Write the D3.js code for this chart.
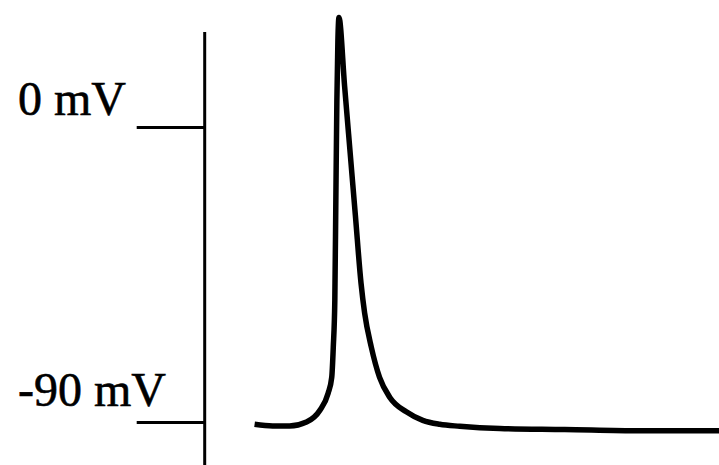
<!DOCTYPE html>
<html>
<head>
<meta charset="utf-8">
<script src="https://cdn.jsdelivr.net/npm/d3@7"></script>
<style>
  html, body { margin: 0; padding: 0; background: #fff; }
  svg { display: block; }
</style>
</head>
<body>
<svg id="chart"></svg>
<script>
const width = 719;
const height = 465;

// tick values and their labels
const tickValues = [0, -90];
const tickLabels = ["0 mV", "-90 mV"];

// action potential trace: time (arbitrary units) and membrane voltage (mV)
const times = [9.7, 13.2, 16.5, 19.8, 22.4, 24.0, 24.7, 25.0, 25.3, 25.5, 25.7, 25.9, 26.1,
  27.2, 28.3, 29.3, 30.4, 31.1, 32.4, 34.0, 36.0, 39.2, 42.4,
  45.7, 49.6, 57.4, 70.0, 84.6, 101];
const voltages = [-90.7, -91.2, -91.2, -90.0, -86.4, -81.2, -76.4, -67.2, -52.9, -22.4, 8.1, 26.5, 33.4,
  12.5, -8.2, -27.0, -47.7, -56.8, -67.2, -76.4, -82.5, -86.9, -89.5,
  -90.7, -91.3, -92.0, -92.3, -92.7, -92.7];

const trace = times.map((t, i) => ({ t, v: voltages[i] }));

const svg = d3.select("#chart")
  .attr("width", width)
  .attr("height", height);

svg.append("rect")
  .attr("width", width)
  .attr("height", height)
  .attr("fill", "#fff");

const xScale = d3.scaleLinear()
  .domain([0, 100])
  .range([204.7, 719]);

const yScale = d3.scaleLinear()
  .domain([-90, 0])
  .range([422, 127]);

// Y axis: one vertical line plus two long ticks to the left
const yAxis = d3.axisLeft(yScale)
  .tickValues(tickValues)
  .tickSize(68)
  .tickFormat("");

const yAxisG = svg.append("g")
  .attr("transform", `translate(${xScale(0)},0)`)
  .call(yAxis);

yAxisG.select(".domain").remove();
yAxisG.selectAll(".tick line")
  .attr("stroke", "#000")
  .attr("stroke-width", 3);

yAxisG.append("line")
  .attr("x1", 0).attr("x2", 0)
  .attr("y1", 32).attr("y2", height)
  .attr("stroke", "#000")
  .attr("stroke-width", 3);

// labels sit above the tick, left aligned
svg.selectAll(".mv-label")
  .data(tickValues)
  .enter()
  .append("text")
  .attr("class", "mv-label")
  .attr("x", 18)
  .attr("y", d => yScale(d) - (d === 0 ? 12 : 16))
  .attr("font-family", "'Liberation Serif', 'Times New Roman', serif")
  .attr("font-size", 48)
  .attr("fill", "#000")
  .attr("stroke", "#000")
  .attr("stroke-width", 0.6)
  .text((d, i) => tickLabels[i]);

// the trace
const line = d3.line()
  .x(d => xScale(d.t))
  .y(d => yScale(d.v))
  .curve(d3.curveMonotoneX);

svg.append("path")
  .datum(trace)
  .attr("d", line)
  .attr("fill", "none")
  .attr("stroke", "#000")
  .attr("stroke-width", 5.5)
  .attr("stroke-linejoin", "round");
</script>
</body>
</html>
